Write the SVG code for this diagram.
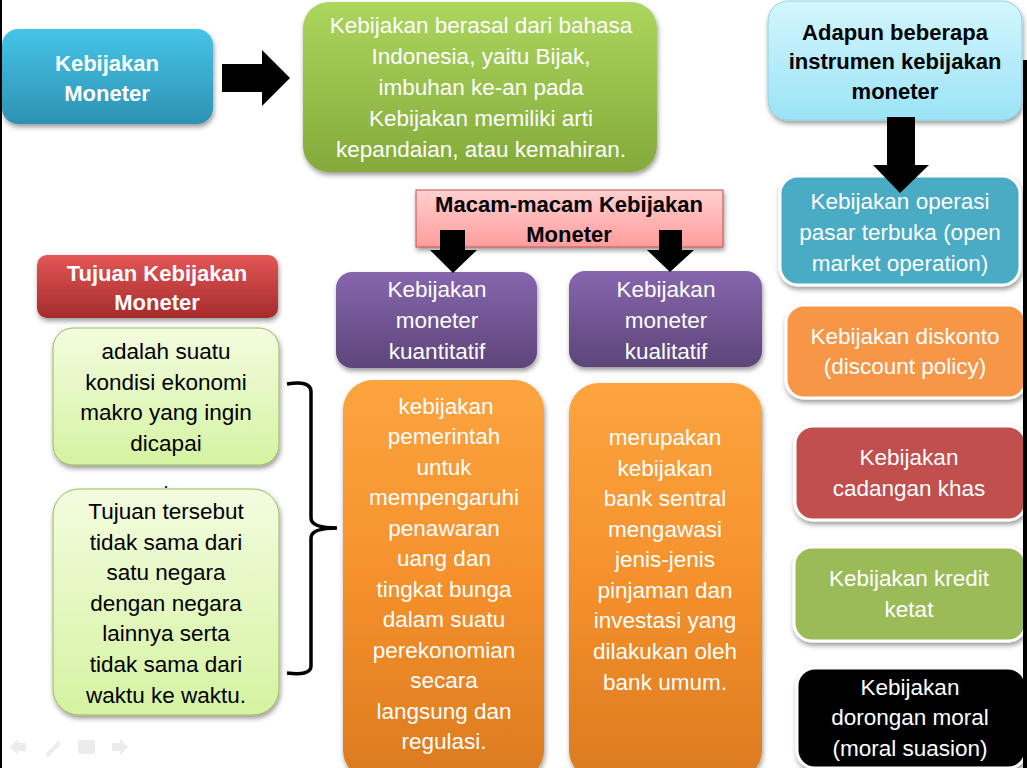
<svg xmlns="http://www.w3.org/2000/svg" width="1027" height="768" viewBox="0 0 1027 768">
<defs>
<linearGradient id="gBlue" x1="0" y1="0" x2="0" y2="1"><stop offset="0" stop-color="#45c4e8"/><stop offset="1" stop-color="#2e92b2"/></linearGradient>
<linearGradient id="gGreen" x1="0" y1="0" x2="0" y2="1"><stop offset="0" stop-color="#acd65e"/><stop offset="1" stop-color="#83aa3a"/></linearGradient>
<linearGradient id="gPurple" x1="0" y1="0" x2="0" y2="1"><stop offset="0" stop-color="#8666ae"/><stop offset="1" stop-color="#5d4579"/></linearGradient>
<linearGradient id="gOrange" x1="0" y1="0" x2="0" y2="1"><stop offset="0" stop-color="#fca43f"/><stop offset="0.5" stop-color="#f5912c"/><stop offset="1" stop-color="#dc7a1f"/></linearGradient>
<linearGradient id="gRed" x1="0" y1="0" x2="0" y2="1"><stop offset="0" stop-color="#e35656"/><stop offset="1" stop-color="#a52b2b"/></linearGradient>
<linearGradient id="gPink" x1="0" y1="0" x2="0" y2="1"><stop offset="0" stop-color="#ffd0d0"/><stop offset="1" stop-color="#ff9c9c"/></linearGradient>
<linearGradient id="gPale" x1="0" y1="0" x2="0" y2="1"><stop offset="0" stop-color="#d4f6fd"/><stop offset="1" stop-color="#9be3f7"/></linearGradient>
<linearGradient id="gLight" x1="0" y1="0" x2="0" y2="1"><stop offset="0" stop-color="#f3fcdf"/><stop offset="1" stop-color="#d5f3a2"/></linearGradient>
<filter id="sh" x="-10%" y="-10%" width="125%" height="130%"><feDropShadow dx="1" dy="3" stdDeviation="2.5" flood-color="#000" flood-opacity="0.4"/></filter>
</defs>
<style>
.t{font-family:"Liberation Sans",Arial,sans-serif;font-size:22.5px;text-anchor:middle;}
.w{fill:#fff;}
.k{fill:#000;}
.b{font-weight:bold;font-size:22px;}
.card{stroke:#fff;stroke-width:3;}
</style>
<rect x="0" y="0" width="1027" height="768" fill="#fff"/>

<g id="nav" fill="#ececec">
<path d="M10 747 L18 739 L18 743 L26 743 L26 751 L18 751 L18 755 Z"/>
<path d="M45 755 L58 741 L61 744 L48 757 Z"/>
<rect x="78" y="740" width="17" height="14" rx="2"/>
<path d="M128 747 L120 739 L120 743 L112 743 L112 751 L120 751 L120 755 Z"/>
</g>

<g id="kebijakan-moneter">
<rect x="2" y="29" width="211" height="95" rx="16" fill="url(#gBlue)" filter="url(#sh)"/>
<text class="t w b"><tspan x="107" y="71">Kebijakan</tspan><tspan x="107" y="101">Moneter</tspan></text>
</g>

<g id="definisi">
<rect x="303" y="2" width="354" height="170" rx="26" fill="url(#gGreen)" filter="url(#sh)"/>
<text class="t w"><tspan x="481" y="33">Kebijakan berasal dari bahasa</tspan><tspan x="481" y="64">Indonesia, yaitu Bijak,</tspan><tspan x="481" y="95">imbuhan ke-an pada</tspan><tspan x="481" y="126">Kebijakan memiliki arti</tspan><tspan x="481" y="157">kepandaian, atau kemahiran.</tspan></text>
</g>

<g id="instrumen">
<rect x="768" y="1" width="254" height="119" rx="20" fill="url(#gPale)" stroke="#8fd3e6" stroke-width="1" filter="url(#sh)"/>
<text class="t k b"><tspan x="895" y="40">Adapun beberapa</tspan><tspan x="895" y="69">instrumen kebijakan</tspan><tspan x="895" y="99">moneter</tspan></text>
</g>

<g id="operasi-pasar">
<rect x="780" y="176" width="240" height="109" rx="18" class="card" fill="#4aabc4" filter="url(#sh)"/>
<text class="t w"><tspan x="900" y="209">Kebijakan operasi</tspan><tspan x="900" y="240">pasar terbuka (open</tspan><tspan x="900" y="271">market operation)</tspan></text>
</g>

<g id="diskonto">
<rect x="786" y="305" width="240" height="93" rx="18" class="card" fill="#f79646" filter="url(#sh)"/>
<text class="t w"><tspan x="905" y="344">Kebijakan diskonto</tspan><tspan x="905" y="374">(discount policy)</tspan></text>
</g>

<g id="cadangan">
<rect x="795" y="426" width="231" height="94" rx="18" class="card" fill="#c0504d" filter="url(#sh)"/>
<text class="t w"><tspan x="909" y="465">Kebijakan</tspan><tspan x="909" y="496">cadangan khas</tspan></text>
</g>

<g id="kredit">
<rect x="794" y="547" width="232" height="94" rx="18" class="card" fill="#9bbb59" filter="url(#sh)"/>
<text class="t w"><tspan x="909" y="586">Kebijakan kredit</tspan><tspan x="909" y="617">ketat</tspan></text>
</g>

<g id="dorongan">
<rect x="797" y="668" width="229" height="100" rx="18" class="card" fill="#000" filter="url(#sh)"/>
<text class="t w"><tspan x="910" y="695">Kebijakan</tspan><tspan x="910" y="725">dorongan moral</tspan><tspan x="910" y="756">(moral suasion)</tspan></text>
</g>

<g id="macam">
<rect x="416" y="190" width="307" height="57" fill="url(#gPink)" stroke="#c0504d" stroke-width="1" filter="url(#sh)"/>
<text class="t k b"><tspan x="569" y="212">Macam-macam Kebijakan</tspan><tspan x="569" y="242">Moneter</tspan></text>
</g>

<g id="kuantitatif">
<rect x="336" y="272" width="201" height="96" rx="16" fill="url(#gPurple)" filter="url(#sh)"/>
<text class="t w"><tspan x="437" y="297">Kebijakan</tspan><tspan x="437" y="328">moneter</tspan><tspan x="437" y="359">kuantitatif</tspan></text>
</g>

<g id="kualitatif">
<rect x="569" y="271" width="193" height="96" rx="16" fill="url(#gPurple)" filter="url(#sh)"/>
<text class="t w"><tspan x="666" y="297">Kebijakan</tspan><tspan x="666" y="328">moneter</tspan><tspan x="666" y="359">kualitatif</tspan></text>
</g>

<g id="kuantitatif-desc">
<rect x="343" y="380" width="201" height="400" rx="30" fill="url(#gOrange)" filter="url(#sh)"/>
<text class="t w"><tspan x="446" y="414">kebijakan</tspan><tspan x="444" y="444">pemerintah</tspan><tspan x="444" y="475">untuk</tspan><tspan x="444" y="505">mempengaruhi</tspan><tspan x="444" y="536">penawaran</tspan><tspan x="444" y="566">uang dan</tspan><tspan x="444" y="597">tingkat bunga</tspan><tspan x="444" y="627">dalam suatu</tspan><tspan x="444" y="658">perekonomian</tspan><tspan x="444" y="688">secara</tspan><tspan x="444" y="719">langsung dan</tspan><tspan x="444" y="749">regulasi.</tspan></text>
</g>

<g id="kualitatif-desc">
<rect x="569" y="383" width="193" height="397" rx="30" fill="url(#gOrange)" filter="url(#sh)"/>
<text class="t w"><tspan x="665" y="445">merupakan</tspan><tspan x="665" y="476">kebijakan</tspan><tspan x="665" y="506">bank sentral</tspan><tspan x="665" y="537">mengawasi</tspan><tspan x="665" y="567">jenis-jenis</tspan><tspan x="665" y="598">pinjaman dan</tspan><tspan x="665" y="628">investasi yang</tspan><tspan x="665" y="659">dilakukan oleh</tspan><tspan x="665" y="690">bank umum.</tspan></text>
</g>

<g id="tujuan">
<rect x="37" y="255" width="241" height="63" rx="10" fill="url(#gRed)" filter="url(#sh)"/>
<text class="t w b"><tspan x="157" y="281">Tujuan Kebijakan</tspan><tspan x="157" y="310">Moneter</tspan></text>
</g>

<g id="tujuan-1">
<rect x="53" y="328" width="226" height="137" rx="20" fill="url(#gLight)" stroke="#9bbb59" stroke-width="1" filter="url(#sh)"/>
<text class="t k"><tspan x="166" y="359">adalah suatu</tspan><tspan x="166" y="390">kondisi ekonomi</tspan><tspan x="166" y="420">makro yang ingin</tspan><tspan x="166" y="451">dicapai</tspan></text>
</g>

<text class="t k" x="166" y="488" style="font-size:18px">.</text>

<g id="tujuan-2">
<rect x="53" y="489" width="226" height="226" rx="26" fill="url(#gLight)" stroke="#9bbb59" stroke-width="1" filter="url(#sh)"/>
<text class="t k"><tspan x="166" y="519">Tujuan tersebut</tspan><tspan x="166" y="550">tidak sama dari</tspan><tspan x="166" y="580">satu negara</tspan><tspan x="166" y="611">dengan negara</tspan><tspan x="166" y="641">lainnya serta</tspan><tspan x="166" y="672">tidak sama dari</tspan><tspan x="166" y="703">waktu ke waktu.</tspan></text>
</g>

<g id="connectors" fill="#000">
<path d="M222 64 L262 64 L262 50 L290 78 L262 106 L262 92 L222 92 Z"/>
<path d="M887 117 L915 117 L915 165 L929 165 L900 193 L873 165 L887 165 Z"/>
<path d="M440 230 L465 230 L465 250 L477 250 L453 273 L430 250 L440 250 Z"/>
<path d="M659 230 L682 230 L682 250 L694 250 L670 272 L647 250 L659 250 Z"/>
<path d="M287 384 Q311 380 311 392 L311 518 Q311 528 337 528 Q311 528 311 538 L311 666 Q311 676 287 673" fill="none" stroke="#000" stroke-width="3.5"/>
</g>

<rect x="0" y="0" width="2" height="768" fill="#000"/>
<rect x="1023" y="60" width="4" height="708" fill="#000"/>
</svg>
